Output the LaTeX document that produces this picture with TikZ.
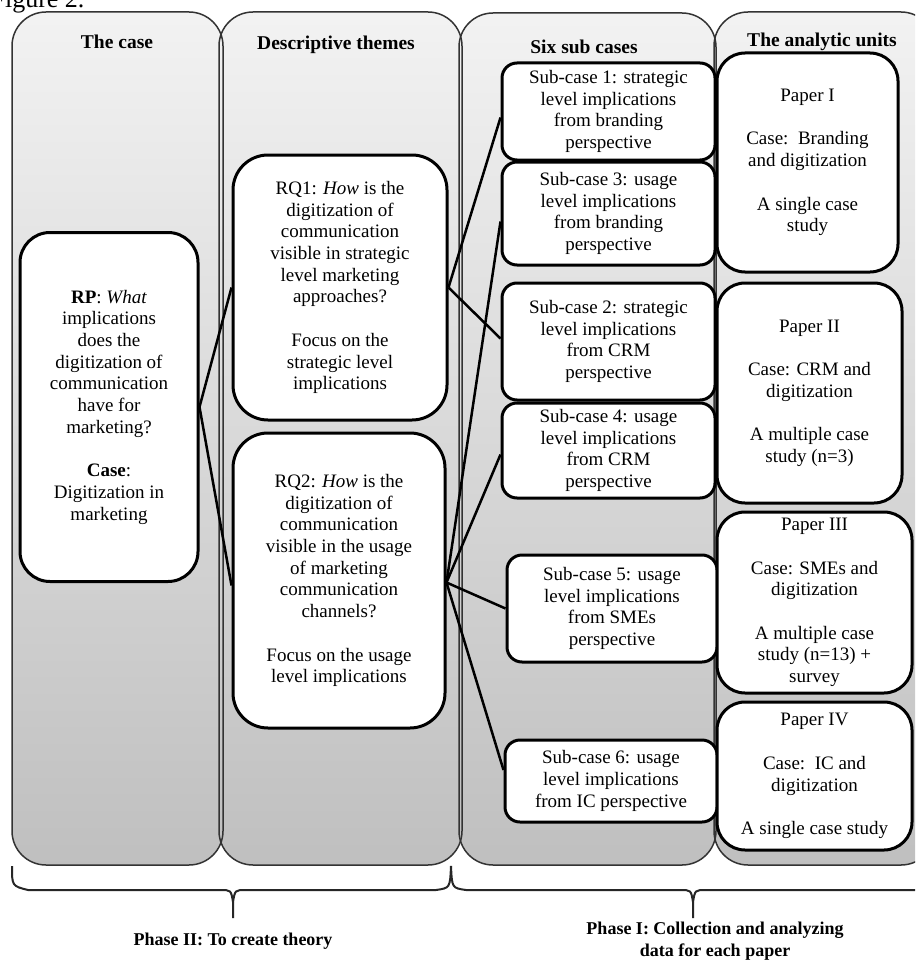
\documentclass[tikz,border=0pt]{standalone}
\usepackage{fontspec}
\setmainfont{Liberation Serif}
\begin{document}
\begin{tikzpicture}[x=1pt,y=-1pt,
  panelfill/.style={top color=black!5, bottom color=black!25, rounded corners=34},
  paneledge/.style={draw=black!80, line width=1.5pt, rounded corners=34},
  box/.style={draw=black, line width=3pt, fill=white, align=center, inner sep=0pt, font=\fontsize{19}{21.7}\selectfont},
  head/.style={font=\bfseries\fontsize{19.5}{21}\selectfont},
  link/.style={line width=2.5pt, black},
  bracestyle/.style={line width=2pt, black!85},
  phase/.style={font=\bfseries\fontsize{18}{21.5}\selectfont, align=center}]
\useasboundingbox (0,0) rectangle (915,963);
\clip (0,0) rectangle (915,963);
\fill[white] (0,0) rectangle (915,963);
\node[anchor=base east, font=\fontsize{26}{28}\selectfont] (fig) at (88,8) {Figure 2.};
% panels
\path[panelfill] (12,12) rectangle (223,865);
\path[panelfill] (219,12) rectangle (462,865);
\path[panelfill] (459,13) rectangle (716,865);
\path[panelfill] (714,12) rectangle (935,865);
\draw[paneledge] (12,12) rectangle (223,865);
\draw[paneledge] (219,12) rectangle (462,865);
\draw[paneledge] (459,13) rectangle (716,865);
\draw[paneledge] (714,12) rectangle (935,865);
% headers
\node[head] (h1) at (117,42) {The case};
\node[head] (h2) at (336,45) {Descriptive themes};
\node[head] (h3) at (584,47) {Six sub cases};
\node[head] (h4) at (822,42) {The analytic units};
% boxes
\node[box, minimum width=178, minimum height=349, rounded corners=30] (rp) at (109,407)
 {\textbf{RP}: \textit{What}\\implications\\does the\\digitization of\\communication\\have for\\marketing?\\[21.7pt]\textbf{Case}:\\Digitization in\\marketing};
\node[box, minimum width=214, minimum height=265, rounded corners=35] (rq1) at (340,287.5)
 {RQ1: \textit{How} is the\\digitization of\\communication\\visible in strategic\\level marketing\\approaches?\\[21.7pt]Focus on the\\strategic level\\implications};
\node[box, minimum width=212, minimum height=295, rounded corners=35] (rq2) at (339,580.5)
 {RQ2: \textit{How} is the\\digitization of\\communication\\visible in the usage\\of marketing\\communication\\channels?\\[21.7pt]Focus on the usage\\level implications};
\node[box, minimum width=213, minimum height=97, rounded corners=15] (sub1) at (608.5,111.5)
 {Sub-case 1: strategic\\level implications\\from branding\\perspective};
\node[box, minimum width=213, minimum height=103, rounded corners=15] (sub3) at (608.5,213.5)
 {Sub-case 3: usage\\level implications\\from branding\\perspective};
\node[box, minimum width=213, minimum height=117, rounded corners=15] (sub2) at (608.5,341.5)
 {Sub-case 2: strategic\\level implications\\from CRM\\perspective};
\node[box, minimum width=213, minimum height=95, rounded corners=15] (sub4) at (608.5,450.5)
 {Sub-case 4: usage\\level implications\\from CRM\\perspective};
\node[box, minimum width=210, minimum height=107, rounded corners=15] (sub5) at (612,608.5)
 {Sub-case 5: usage\\level implications\\from SMEs\\perspective};
\node[box, minimum width=212, minimum height=82, rounded corners=15] (sub6) at (611,781)
 {Sub-case 6: usage\\level implications\\from IC perspective};
\node[box, minimum width=181, minimum height=219, rounded corners=28] (p1) at (807.5,162.5)
 {Paper I\\[21.7pt]Case:\ \ Branding\\and digitization\\[21.7pt]A single case\\study};
\node[box, minimum width=185, minimum height=220, rounded corners=28] (p2) at (809.5,393)
 {Paper II\\[21.7pt]Case: CRM and\\digitization\\[21.7pt]A multiple case\\study (n=3)};
\node[box, minimum width=195, minimum height=181, rounded corners=28] (p3) at (814.5,602.5)
 {Paper III\\[21.7pt]Case: SMEs and\\digitization\\[21.7pt]A multiple case\\study (n=13) +\\survey};
\node[box, minimum width=195, minimum height=148, rounded corners=28] (p4) at (814.5,776)
 {Paper IV\\[21.7pt]Case:\ \ IC and\\digitization\\[21.7pt]A single case study};
% connectors
\draw[link] (rp.east) -- (rq1.west);
\draw[link] (rp.east) -- ([yshift=-5pt]rq2.west);
\draw[link] (rq1.east) -- ([yshift=-6pt]sub1.west);
\draw[link] (rq1.east) -- ([yshift=3pt]sub2.west);
\draw[link] ([yshift=-2pt]rq2.east) -- ([yshift=-8pt]sub3.west);
\draw[link] ([yshift=-2pt]rq2.east) -- ([yshift=-4pt]sub4.west);
\draw[link] ([yshift=-2pt]rq2.east) -- (sub5.west);
\draw[link] ([yshift=-2pt]rq2.east) -- ([yshift=11pt]sub6.west);
% braces
\coordinate (bl) at (12,866);
\coordinate (bm) at (451,866);
\coordinate (tl) at (233,918);
\coordinate (tr) at (693,918);
\draw[bracestyle] (bl) .. controls (12,886) .. (28,890) -- (220,890) .. controls (231,890) .. (233,902) -- (tl);
\draw[bracestyle] (233,902) .. controls (235,890) .. (246,890) -- (436,890) .. controls (450,888) .. (bm);
\draw[bracestyle] (bm) .. controls (452,888) .. (466,890) -- (680,890) .. controls (691,890) .. (693,902) -- (tr);
\draw[bracestyle] (693,902) .. controls (695,890) .. (706,890) -- (930,890);
\node[phase] (ph2) at (233,941) {Phase II: To create theory};
\node[phase] (ph1) at (715,941) {Phase I: Collection and analyzing\\data for each paper};
\end{tikzpicture}
\end{document}
